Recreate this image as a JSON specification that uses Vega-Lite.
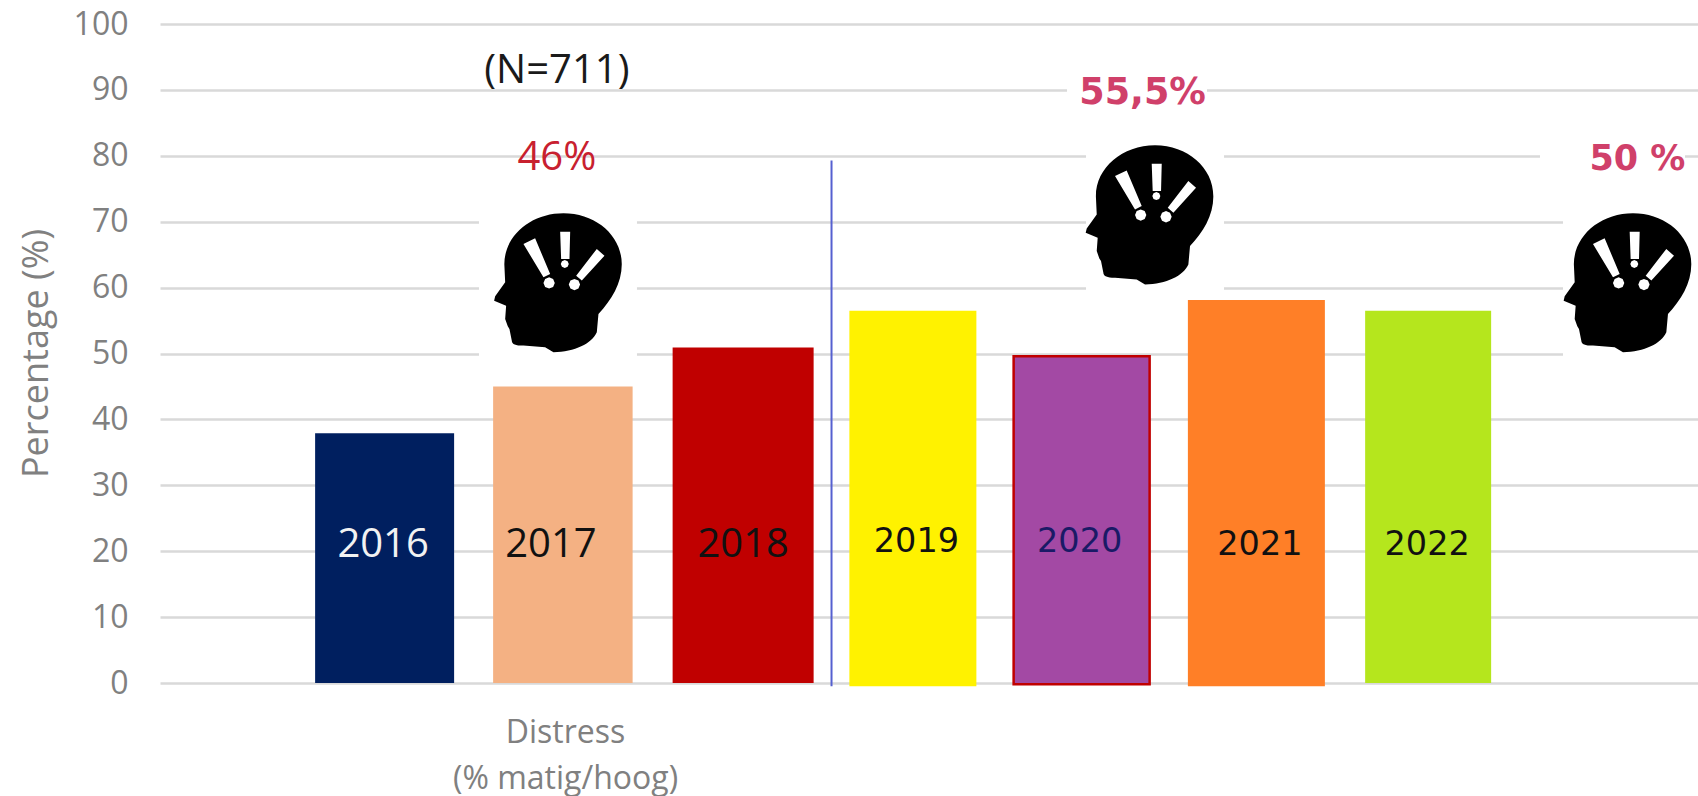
{
"$schema":"https://vega.github.io/schema/vega-lite/v6.json",
"autosize":"none","width":1538,"height":659,
"padding":{"left":160,"top":24,"right":0,"bottom":113},
"background":"white",
"config":{"view":{"stroke":null}},
"datasets":{
"bars":[{"year":"2016","pct":37.9},{"year":"2017","pct":45},{"year":"2018","pct":50.9},{"year":"2019","pct":56.5},{"year":"2020","pct":49.6},{"year":"2021","pct":58.1},{"year":"2022","pct":56.5}],
"heads":[{"year":"2017","pct":60.4},{"year":"2020","pct":70.7},{"year":"rechts","pct":60.4}],
"notes":[{"year":"2017","pct":92.9,"note":"(N=711)"},{"year":"2017","pct":79.6,"note":"46%"},{"year":"2020","pct":89.5,"note":"55,5%"},{"year":"rechts","pct":79.5,"note":"50 %"}],
"divider":[{"year":"2018","pct":79.3,"low":-0.5}]
},
"encoding":{
"x":{"field":"year","type":"nominal","sort":null,"scale":{"type":"band","domain":["2016","2017","2018","2019","2020","2021","2022","rechts"],"paddingInner":0.225,"paddingOuter":0.5256,"align":0.8576},
"axis":{"labels":false,"ticks":false,"domain":false,"grid":false,"title":["Distress","(% matig/hoog)"],"titleFont":"Open Sans","titleFontWeight":"normal","titleFontSize":32,"titleColor":"#808080","titleLineHeight":46,"titleX":405,"titleY":49,"titleAnchor":"middle","titleAlign":"center","titleBaseline":"middle"}},
"y":{"field":"pct","type":"quantitative","scale":{"domain":[0,100],"nice":false},
"axis":{"values":[0,10,20,30,40,50,60,70,80,90,100],"ticks":false,"domain":false,"grid":true,"gridColor":"#d9d9d9","gridWidth":2.5,"labelFont":"Open Sans","labelFontSize":32,"labelColor":"#808080","labelPadding":32,"title":"Percentage (%)","titleFont":"Open Sans","titleFontWeight":"normal","titleFontSize":36,"titleColor":"#808080","titleX":-113,"titleY":329,"titleAnchor":"middle","titleAlign":"center","titleAngle":-90,"titleBaseline":"alphabetic"}},
"color":{"field":"year","type":"nominal","legend":null,"scale":{"domain":["2016","2017","2018","2019","2020","2021","2022"],"range":["#001f5f","#f4b183","#c00000","#fff200","#a349a4","#ff7f27","#b5e61d"]}}
},
"layer":[
{"data":{"name":"heads"},"transform":[{"filter":"datum.year=='2017'"}],"mark":{"type":"point","filled":true,"opacity":1,"size":40000,"color":"white","xOffset":-1.4,"shape":"M-.785 -.96L.795 -.96L.795 .95L-.785 .95Z"},"encoding":{"color":{"value":"white"}}},
{"data":{"name":"heads"},"transform":[{"filter":"datum.year=='2020'"}],"mark":{"type":"point","filled":true,"opacity":1,"size":40000,"color":"white","xOffset":67.4,"shape":"M-.82 -1.4L.58 -1.4L.58 -1.01L.75 -1.01L.75 1.035L-.63 1.035L-.63 -1.01L-.82 -1.01Z"},"encoding":{"color":{"value":"white"}}},
{"data":{"name":"heads"},"transform":[{"filter":"datum.year=='rechts'"}],"mark":{"type":"point","filled":true,"opacity":1,"size":40000,"color":"white","xOffset":22.6,"shape":"M-.87 -1.555L.58 -1.555L.58 -1.03L.75 -1.03L.75 .95L-.64 .95L-.64 -1.03L-.87 -1.03Z"},"encoding":{"color":{"value":"white"}}},

{"data":{"name":"bars"},"transform":[{"filter":"datum.year=='2016'"}],"mark":{"type":"bar","width":139,"xOffset":0}},
{"data":{"name":"bars"},"transform":[{"filter":"datum.year=='2017'"}],"mark":{"type":"bar","width":139.5,"xOffset":4}},
{"data":{"name":"bars"},"transform":[{"filter":"datum.year=='2018'"}],"mark":{"type":"bar","width":141,"xOffset":10}},
{"data":{"name":"bars"},"transform":[{"filter":"datum.year=='2019'"}],"mark":{"type":"bar","width":127,"xOffset":5.5},"encoding":{"y2":{"datum":-0.5}}},
{"data":{"name":"bars"},"transform":[{"filter":"datum.year=='2020'"}],"mark":{"type":"bar","width":136,"xOffset":0,"stroke":"#c00000","strokeWidth":2.5},"encoding":{"y2":{"datum":-0.2}}},
{"data":{"name":"bars"},"transform":[{"filter":"datum.year=='2021'"}],"mark":{"type":"bar","width":137,"xOffset":0.5},"encoding":{"y2":{"datum":-0.5}}},
{"data":{"name":"bars"},"transform":[{"filter":"datum.year=='2022'"}],"mark":{"type":"bar","width":126,"xOffset":-2}},

{"data":{"name":"bars"},"transform":[{"filter":"datum.year=='2016'"}],"mark":{"type":"text","font":"Open Sans","fontSize":40,"dx":-1.5,"baseline":"middle"},"encoding":{"y":{"datum":21},"text":{"field":"year"},"color":{"value":"#f2f2f2"}}},
{"data":{"name":"bars"},"transform":[{"filter":"datum.year=='2017'"}],"mark":{"type":"text","font":"Open Sans","fontSize":40,"dx":-8,"baseline":"middle"},"encoding":{"y":{"datum":21},"text":{"field":"year"},"color":{"value":"#111111"}}},
{"data":{"name":"bars"},"transform":[{"filter":"datum.year=='2018'"}],"mark":{"type":"text","font":"Open Sans","fontSize":40,"dx":10,"baseline":"middle"},"encoding":{"y":{"datum":21},"text":{"field":"year"},"color":{"value":"#111111"}}},
{"data":{"name":"bars"},"transform":[{"filter":"datum.year=='2019'"}],"mark":{"type":"text","font":"DejaVu Sans","fontSize":33.5,"dx":9,"baseline":"middle"},"encoding":{"y":{"datum":21.4},"text":{"field":"year"},"color":{"value":"#111111"}}},
{"data":{"name":"bars"},"transform":[{"filter":"datum.year=='2020'"}],"mark":{"type":"text","font":"DejaVu Sans","fontSize":33.5,"dx":-2,"baseline":"middle"},"encoding":{"y":{"datum":21.4},"text":{"field":"year"},"color":{"value":"#1a1a66"}}},
{"data":{"name":"bars"},"transform":[{"filter":"datum.year=='2021'"}],"mark":{"type":"text","font":"DejaVu Sans","fontSize":33.5,"dx":4,"baseline":"middle"},"encoding":{"y":{"datum":21},"text":{"field":"year"},"color":{"value":"#111111"}}},
{"data":{"name":"bars"},"transform":[{"filter":"datum.year=='2022'"}],"mark":{"type":"text","font":"DejaVu Sans","fontSize":33.5,"dx":-3,"baseline":"middle"},"encoding":{"y":{"datum":21},"text":{"field":"year"},"color":{"value":"#111111"}}},

{"data":{"name":"divider"},"mark":{"type":"rule","strokeWidth":2,"xOffset":98.4},"encoding":{"y2":{"field":"low"},"color":{"value":"#5560d0"}}},

{"data":{"name":"heads"},"transform":[{"filter":"datum.year=='2017'"}],"mark":{"type":"point","filled":true,"opacity":1,"size":19044,"xOffset":-1.4,"shape":"M-.77 -.3C-.77 -.72 -.38 -1.04 .087 -1.04C.553 -1.04 .932 -.72 .932 -.3C.932 -.02 .78 .22 .594 .42L.57 .686C.5 .85 .25 .97 -.058 .976L-.179 .903L-.493 .879C-.6 .88 -.66 .86 -.662 .807L-.696 .638L-.72 .6L-.758 .493L-.744 .3L-.918 .227L-.903 .164L-.758 -.039ZM-.493 -.594L-.203 -.111L-.106 -.159L-.324 -.676ZM-.039 -.029L-.063 -.087L-.121 -.111L-.179 -.087L-.203 -.029L-.179 .029L-.121 .053L-.063 .029ZM.039 -.773L.053 -.377L.174 -.377L.184 -.773ZM.164 -.304L.147 -.345L.106 -.362L.065 -.345L.048 -.304L.065 -.263L.106 -.246L.147 -.263ZM.57 -.522L.271 -.135L.353 -.063L.681 -.425ZM.328 -.005L.304 -.063L.246 -.087L.188 -.063L.164 -.005L.188 .053L.246 .077L.304 .053Z"},"encoding":{"color":{"value":"#000000"}}},
{"data":{"name":"heads"},"transform":[{"filter":"datum.year=='2020'"}],"mark":{"type":"point","filled":true,"opacity":1,"size":19044,"xOffset":67.4,"shape":"M-.77 -.3C-.77 -.72 -.38 -1.04 .087 -1.04C.553 -1.04 .932 -.72 .932 -.3C.932 -.02 .78 .22 .594 .42L.57 .686C.5 .85 .25 .97 -.058 .976L-.179 .903L-.493 .879C-.6 .88 -.66 .86 -.662 .807L-.696 .638L-.72 .6L-.758 .493L-.744 .3L-.918 .227L-.903 .164L-.758 -.039ZM-.493 -.594L-.203 -.111L-.106 -.159L-.324 -.676ZM-.039 -.029L-.063 -.087L-.121 -.111L-.179 -.087L-.203 -.029L-.179 .029L-.121 .053L-.063 .029ZM.039 -.773L.053 -.377L.174 -.377L.184 -.773ZM.164 -.304L.147 -.345L.106 -.362L.065 -.345L.048 -.304L.065 -.263L.106 -.246L.147 -.263ZM.57 -.522L.271 -.135L.353 -.063L.681 -.425ZM.328 -.005L.304 -.063L.246 -.087L.188 -.063L.164 -.005L.188 .053L.246 .077L.304 .053Z"},"encoding":{"color":{"value":"#000000"}}},
{"data":{"name":"heads"},"transform":[{"filter":"datum.year=='rechts'"}],"mark":{"type":"point","filled":true,"opacity":1,"size":19044,"xOffset":22.6,"shape":"M-.77 -.3C-.77 -.72 -.38 -1.04 .087 -1.04C.553 -1.04 .932 -.72 .932 -.3C.932 -.02 .78 .22 .594 .42L.57 .686C.5 .85 .25 .97 -.058 .976L-.179 .903L-.493 .879C-.6 .88 -.66 .86 -.662 .807L-.696 .638L-.72 .6L-.758 .493L-.744 .3L-.918 .227L-.903 .164L-.758 -.039ZM-.493 -.594L-.203 -.111L-.106 -.159L-.324 -.676ZM-.039 -.029L-.063 -.087L-.121 -.111L-.179 -.087L-.203 -.029L-.179 .029L-.121 .053L-.063 .029ZM.039 -.773L.053 -.377L.174 -.377L.184 -.773ZM.164 -.304L.147 -.345L.106 -.362L.065 -.345L.048 -.304L.065 -.263L.106 -.246L.147 -.263ZM.57 -.522L.271 -.135L.353 -.063L.681 -.425ZM.328 -.005L.304 -.063L.246 -.087L.188 -.063L.164 -.005L.188 .053L.246 .077L.304 .053Z"},"encoding":{"color":{"value":"#000000"}}},

{"data":{"name":"notes"},"transform":[{"filter":"datum.note=='(N=711)'"}],"mark":{"type":"text","font":"Open Sans","fontSize":40,"dx":-2,"baseline":"middle"},"encoding":{"text":{"field":"note"},"color":{"value":"#1a1a1a"}}},
{"data":{"name":"notes"},"transform":[{"filter":"datum.note=='46%'"}],"mark":{"type":"text","font":"Open Sans","fontSize":40,"dx":-2,"baseline":"middle"},"encoding":{"text":{"field":"note"},"color":{"value":"#c8202f"}}},
{"data":{"name":"notes"},"transform":[{"filter":"datum.note=='55,5%'"}],"mark":{"type":"text","font":"DejaVu Sans","fontWeight":"bold","fontSize":36.5,"dx":61,"baseline":"middle"},"encoding":{"text":{"field":"note"},"color":{"value":"#d0406a"}}},
{"data":{"name":"notes"},"transform":[{"filter":"datum.note=='50 %'"}],"mark":{"type":"text","font":"DejaVu Sans","fontWeight":"bold","fontSize":35,"dx":33,"baseline":"middle"},"encoding":{"text":{"field":"note"},"color":{"value":"#d0406a"}}}
]
}
